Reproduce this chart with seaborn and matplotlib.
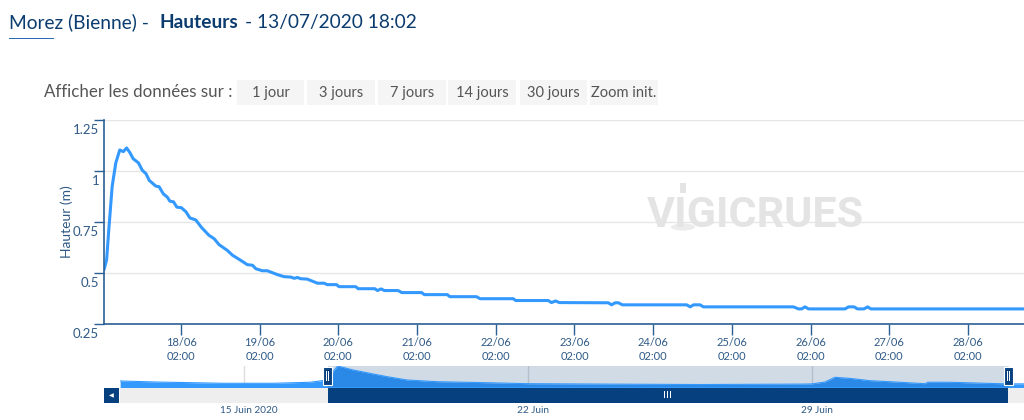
import matplotlib
matplotlib.use("Agg")
import matplotlib.dates as mdates
import matplotlib.pyplot as plt
import matplotlib.transforms as mtrans
from matplotlib.patches import Ellipse, Rectangle
import pandas as pd
import seaborn as sns

# main curve: hours since the left edge of the chart, height in m
hours = [0, 0.8, 1.5, 2.5, 3.6, 4.8, 5.9, 6.9, 7.9, 8.9, 10.5, 11.7, 12.8, 13.8, 15.8, 16.8,
         18.1, 19.3, 20.1, 21.2, 22.2, 23.6, 25.0, 26.2, 28.0, 29.7, 32.0, 33.6, 35.1, 37.6,
         39.2, 41.7, 43.7, 45.3, 46.3, 48.3, 49.8, 52.9, 54.9, 57.0, 58.0, 59.0, 60.0, 62.0,
         65.1, 67.1, 68.1, 70.9, 71.7, 76.8, 77.5, 82.6, 83.4, 84.5, 85.5, 89.7, 90.8, 96.9,
         97.7, 104.7, 105.5, 113.6, 114.7, 124.8, 125.6, 135.5, 136.5, 137.7, 138.9, 153.8,
         154.8, 155.9, 156.9, 158.1, 177.7, 178.8, 179.8, 181.8, 182.8, 210.3, 211.8, 212.8,
         213.8, 214.9, 226.0, 227.1, 228.8, 229.8, 231.8, 232.9, 233.9, 285.0]
heights = [0.516, 0.565, 0.72, 0.926, 1.04, 1.103, 1.095, 1.113, 1.09, 1.06, 1.04, 1.003, 0.987,
           0.954, 0.926, 0.923, 0.888, 0.872, 0.852, 0.849, 0.823, 0.82, 0.80, 0.77, 0.76, 0.724,
           0.685, 0.668, 0.639, 0.611, 0.587, 0.562, 0.541, 0.538, 0.521, 0.511, 0.511, 0.492,
           0.482, 0.48, 0.474, 0.478, 0.472, 0.47, 0.45, 0.45, 0.443, 0.443, 0.433, 0.433, 0.423,
           0.423, 0.414, 0.422, 0.414, 0.414, 0.404, 0.404, 0.394, 0.394, 0.384, 0.384, 0.374,
           0.374, 0.365, 0.365, 0.355, 0.363, 0.355, 0.354, 0.344, 0.354, 0.354, 0.344, 0.344,
           0.334, 0.344, 0.344, 0.334, 0.334, 0.324, 0.324, 0.334, 0.324, 0.324, 0.334, 0.334,
           0.324, 0.324, 0.334, 0.324, 0.324]

# navigator: days since 15 June, height in m
nav_days = [-3.06, -2.15, -0.52, 0.71, 1.62, 1.92, 2.06, 2.11, 2.3, 2.68, 3.10, 3.52, 4.01, 4.75,
            5.98, 6.99, 8.77, 11.23, 13.82, 14.0, 14.31, 14.56, 14.93, 15.42, 16.16, 16.78,
            16.85, 17.39, 18.63, 18.80, 19.3]
nav_heights = [0.456, 0.41, 0.355, 0.355, 0.40, 0.47, 0.516, 0.70, 1.113, 0.94, 0.79, 0.645, 0.5,
               0.425, 0.38, 0.337, 0.32, 0.30, 0.32, 0.33, 0.41, 0.618, 0.57, 0.47, 0.40, 0.337,
               0.40, 0.40, 0.337, 0.33, 0.33]
nav_ticks = ["2020-06-15", "2020-06-22", "2020-06-29"]
nav_tick_labels = ["15 Juin 2020", "22 Juin", "29 Juin"]

y_ticks = [0.25, 0.5, 0.75, 1, 1.25]
y_tick_labels = ["0.25", "0.5", "0.75", "1", "1.25"]
buttons = ["1 jour", "3 jours", "7 jours", "14 jours", "30 jours", "Zoom init."]
button_edges = [(237, 304), (307, 375), (378, 446), (448, 516), (520, 587), (590, 658)]

NAVY = "#0b3c6f"
TEXT = "#2f5a86"
AXIS = "#2b5f96"
BLUE = "#3399ff"
DARK = "#07407e"
W, H = 1024, 420

sns.set_style("white")
plt.rcParams["font.family"] = ["Lato", "DejaVu Sans"]

fig = plt.figure(figsize=(W / 100, H / 100), dpi=100)


def box(left, top, right, bottom):
    # pixel box (from the top left corner) to figure fractions
    return [left / W, 1 - bottom / H, (right - left) / W, (bottom - top) / H]


def put_rect(left, top, right, bottom, color, **kwargs):
    x, y, w, h = box(left, top, right, bottom)
    fig.add_artist(Rectangle((x, y), w, h, transform=fig.transFigure, facecolor=color,
                             edgecolor=kwargs.pop("edgecolor", "none"), **kwargs))


def put_text(x, y, s, **kwargs):
    fig.text(x / W, 1 - y / H, s, **kwargs)


# header
put_text(9, 28, "Morez (Bienne) -", fontsize=13.8, color=NAVY, va="baseline")
put_text(159.5, 28, "Hauteurs", fontsize=13.8, color=NAVY, va="baseline", fontweight="bold")
put_text(245, 28, "- 13/07/2020 18:02", fontsize=13.8, color=NAVY, va="baseline")
put_rect(9, 38, 54, 39, "#2b6cb0")

put_text(44, 97, "Afficher les données sur :", fontsize=12.2, color="#555555", va="baseline")
for label, (left, right) in zip(buttons, button_edges):
    put_rect(left, 80, right, 105, "#f5f5f5")
    put_text((left + right) / 2, 97, label, fontsize=10.5, color="#555555", ha="center", va="baseline")

# main chart
start = pd.Timestamp("2020-06-17 02:30")
df = pd.DataFrame({"date": start + pd.to_timedelta(hours, unit="h"), "hauteur": heights})

ax = fig.add_axes(box(104, 120, 1024, 324))
ax.set_facecolor("none")

# watermark sits under the curve
put_text(755, 227, "VIGICRUES", fontsize=31, color="#e4e4e4", fontweight="bold", ha="center",
         va="baseline", family="Roboto", zorder=0)
put_rect(680, 183, 686, 193, "#e4e4e4", zorder=0)
fig.add_artist(Ellipse((683 / W, 1 - 227 / H), 24 / W, 7 / H, transform=fig.transFigure,
                       facecolor="#ececec", edgecolor="none", zorder=0))

sns.lineplot(data=df, x="date", y="hauteur", ax=ax, color=BLUE, linewidth=2.2, legend=False)
ax.set_xlim(start, start + pd.Timedelta(hours=280.6))
ax.set_ylim(0.25, 1.25)

ax.set_xticks(pd.date_range("2020-06-18 02:00", "2020-06-28 02:00", freq="D"))
ax.xaxis.set_major_formatter(mdates.DateFormatter("%d/%m\n%H:%M"))
ax.set_yticks(y_ticks)
ax.set_yticklabels(y_tick_labels)
ax.grid(axis="y", color="#e6e6e6", linewidth=1)
ax.set_axisbelow(True)
ax.tick_params(axis="x", length=8, width=1, color=AXIS, labelcolor=TEXT, labelsize=8, pad=1.5, bottom=True)
ax.tick_params(axis="y", length=7.5, width=1, color=AXIS, labelcolor=TEXT, labelsize=9.5, pad=-4, left=True)
for label in ax.get_yticklabels():
    label.set_verticalalignment("center")
    label.set_transform(label.get_transform() + mtrans.ScaledTranslation(0, -10 / 100, fig.dpi_scale_trans))
for label in ax.get_xticklabels():
    label.set_linespacing(1.35)

for side in ["top", "right"]:
    ax.spines[side].set_visible(False)
for side in ["left", "bottom"]:
    ax.spines[side].set_color(AXIS)
    ax.spines[side].set_linewidth(1.2)

ax.set_xlabel("")
ax.set_ylabel("")
put_text(67, 222, "Hauteur (m)", fontsize=10, color=TEXT, rotation=90, ha="center", va="center")

# navigator
nav_df = pd.DataFrame({"date": pd.Timestamp("2020-06-15") + pd.to_timedelta(nav_days, unit="D"),
                       "hauteur": nav_heights})
nav = fig.add_axes(box(120, 365.5, 1024, 387))
nav.set_facecolor("none")
sns.lineplot(data=nav_df, x="date", y="hauteur", ax=nav, color=BLUE, linewidth=0.8, legend=False)
nav.fill_between(nav_df["date"], nav_df["hauteur"], 0, color=BLUE, linewidth=0)
nav.set_xlim(pd.Timestamp("2020-06-15") + pd.Timedelta(days=-3.064),
             pd.Timestamp("2020-06-15") + pd.Timedelta(days=19.22))
nav.set_ylim(0.192, 1.135)
nav.set_yticks([])
nav.set_xticks([])
nav.set_xlabel("")
nav.set_ylabel("")
sns.despine(ax=nav, left=True, bottom=True)
nav.axvspan(start - pd.Timedelta(hours=1), pd.Timestamp("2020-06-15") + pd.Timedelta(days=18.85),
            color=DARK, alpha=0.19, linewidth=0)
for tick, label in zip(nav_ticks, nav_tick_labels):
    nav.axvline(pd.Timestamp(tick), color="#dddddd", linewidth=1, zorder=0)
    nav.annotate(label, (pd.Timestamp(tick), 0), xycoords=("data", "axes fraction"),
                 xytext=(5, -26), textcoords="offset pixels", fontsize=7.2, color=TEXT, ha="center", va="baseline",
                 annotation_clip=False)

# scrollbar and handles
put_rect(120, 388, 1024, 403, "#eeeeee")
put_rect(328, 388, 1008, 403, DARK)
put_rect(104, 388, 119, 403, DARK)
put_text(111.5, 395.5, "◀", fontsize=4.5, color="white", ha="center", va="center", family="DejaVu Sans")
for offset in [-3, 0, 3]:
    put_rect(667 + offset, 391, 668 + offset, 398, "white")
for left in [323, 1004]:
    put_rect(left, 367, left + 9, 385, DARK, edgecolor="white", linewidth=0.8)
    put_rect(left + 3, 371, left + 4, 381, "white")
    put_rect(left + 5, 371, left + 6, 381, "white")

fig.savefig("out.png", dpi=100)
